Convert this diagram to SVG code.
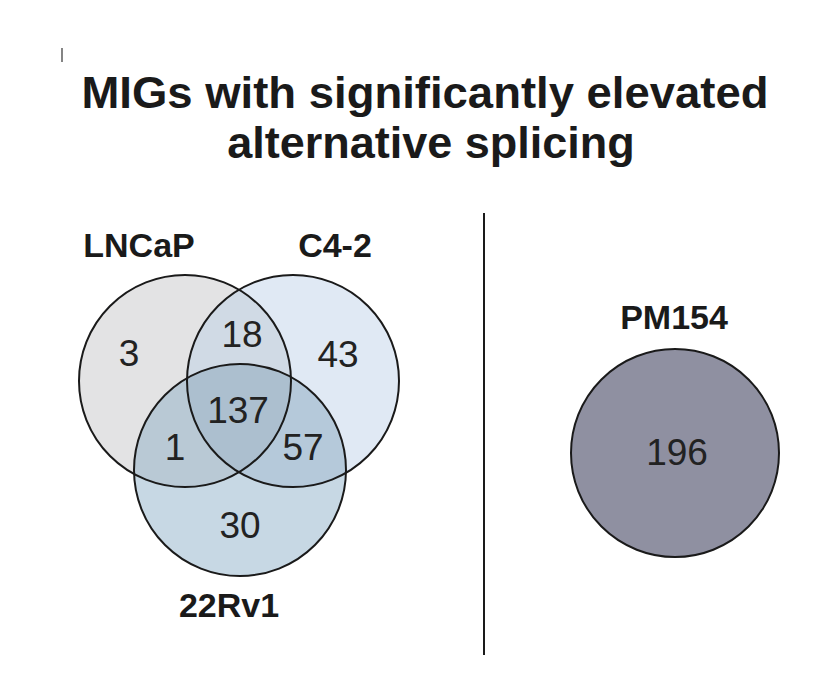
<svg xmlns="http://www.w3.org/2000/svg" width="817" height="698" viewBox="0 0 817 698">
<style>
.title{font-family:"Liberation Sans",Arial,sans-serif;font-weight:bold;font-size:45px;fill:#1a1a1a;text-anchor:middle}
.lab{font-family:"Liberation Sans",Arial,sans-serif;font-weight:bold;font-size:34px;fill:#1a1a1a;text-anchor:middle}
.num{font-family:"Liberation Sans",Arial,sans-serif;font-size:37px;fill:#222;text-anchor:middle}
.ring{fill:none;stroke:#1a1a1a;stroke-width:2}
</style>
<defs>
<clipPath id="clipL"><circle cx="185" cy="381" r="106"/></clipPath>
<clipPath id="clipC"><circle cx="293" cy="381" r="106"/></clipPath>
</defs>
<rect width="817" height="698" fill="#ffffff"/>
<line x1="62" y1="48" x2="62" y2="62" stroke="#333" stroke-width="1.2"/>
<g id="title">
<text class="title" x="425" y="108" textLength="687" lengthAdjust="spacingAndGlyphs">MIGs with significantly elevated</text>
<text class="title" x="431" y="158">alternative splicing</text>
</g>
<g id="divider"><line x1="484" y1="213" x2="484" y2="655" stroke="#1a1a1a" stroke-width="2"/></g>
<g id="venn-fills">
<circle cx="185" cy="381" r="106" fill="#e3e3e4"/>
<circle cx="293" cy="381" r="106" fill="#e0e9f4"/>
<circle cx="240" cy="470" r="106" fill="#c7d8e4"/>
<circle cx="293" cy="381" r="106" fill="#d0dae5" clip-path="url(#clipL)"/>
<circle cx="240" cy="470" r="106" fill="#b9c9d5" clip-path="url(#clipL)"/>
<circle cx="240" cy="470" r="106" fill="#b5c9da" clip-path="url(#clipC)"/>
<g clip-path="url(#clipL)"><circle cx="240" cy="470" r="106" fill="#acbfcf" clip-path="url(#clipC)"/></g>
</g>
<g id="LNCaP">
<circle class="ring" cx="185" cy="381" r="106"/>
<text class="lab" x="139" y="257">LNCaP</text>
</g>
<g id="C4-2">
<circle class="ring" cx="293" cy="381" r="106"/>
<text class="lab" x="335" y="257">C4-2</text>
</g>
<g id="22Rv1">
<circle class="ring" cx="240" cy="470" r="106"/>
<text class="lab" x="229" y="617">22Rv1</text>
</g>
<g id="counts">
<text class="num" x="129" y="366">3</text>
<text class="num" x="242" y="347">18</text>
<text class="num" x="338" y="367">43</text>
<text class="num" x="238" y="423">137</text>
<text class="num" x="175" y="460">1</text>
<text class="num" x="303" y="460">57</text>
<text class="num" x="240" y="538">30</text>
</g>
<g id="PM154">
<circle cx="675" cy="453" r="104" fill="#8f90a1" stroke="#1a1a1a" stroke-width="2"/>
<text class="lab" x="674" y="329">PM154</text>
<text class="num" x="677" y="465">196</text>
</g>
</svg>
